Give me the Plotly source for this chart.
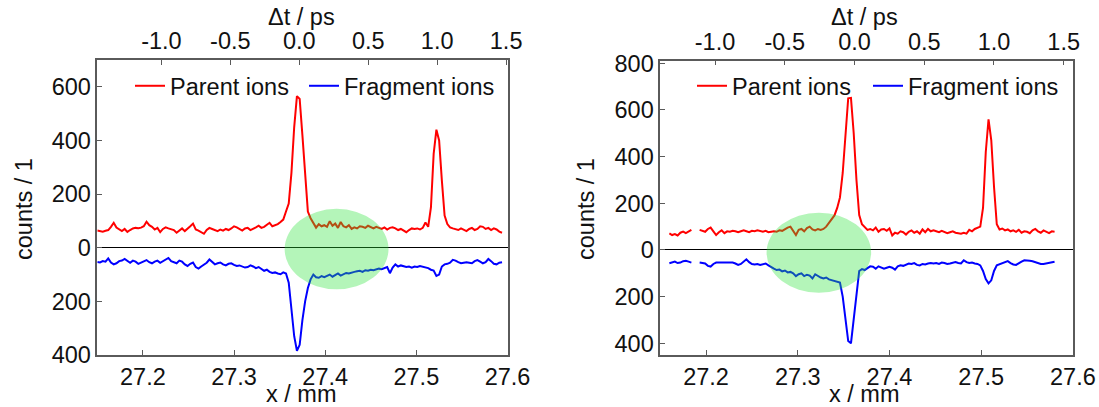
import plotly.graph_objects as go

# ---------------- data ----------------
X_LEFT = [
    27.150, 27.153, 27.156, 27.159, 27.162, 27.165, 27.168, 27.171, 27.174, 27.177,
    27.180, 27.183, 27.186, 27.189, 27.192, 27.195, 27.198, 27.201, 27.204, 27.207,
    27.210, 27.213, 27.216, 27.219, 27.222, 27.225, 27.228, 27.231, 27.234, 27.237,
    27.240, 27.243, 27.246, 27.249, 27.252, 27.255, 27.258, 27.261, 27.264, 27.267,
    27.270, 27.273, 27.276, 27.279, 27.282, 27.285, 27.288, 27.291, 27.294, 27.297,
    27.300, 27.303, 27.306, 27.309, 27.312, 27.315, 27.318, 27.321, 27.324, 27.327,
    27.330, 27.333, 27.336, 27.339, 27.342, 27.345, 27.348, 27.351, 27.354, 27.357,
    27.360, 27.363, 27.366, 27.369, 27.372, 27.375, 27.378, 27.381, 27.384, 27.387,
    27.390, 27.393, 27.396, 27.399, 27.402, 27.405, 27.408, 27.411, 27.414, 27.417,
    27.420, 27.423, 27.426, 27.429, 27.432, 27.435, 27.438, 27.441, 27.444, 27.447,
    27.450, 27.453, 27.456, 27.459, 27.462, 27.465, 27.468, 27.471, 27.474, 27.477,
    27.480, 27.483, 27.486, 27.489, 27.492, 27.495, 27.498, 27.501, 27.504, 27.507,
    27.510, 27.513, 27.516, 27.519, 27.522, 27.525, 27.528, 27.531, 27.534, 27.537,
    27.540, 27.543, 27.546, 27.549, 27.552, 27.555, 27.558, 27.561, 27.564, 27.567,
    27.570, 27.573, 27.576, 27.579, 27.582, 27.585, 27.588, 27.591, 27.594,
]
PARENT_LEFT = [
    64, 62, 60, 63, 66, 78, 93, 75, 68, 62,
    70, 59, 66, 72, 74, 73, 75, 80, 97, 84,
    78, 68, 74, 58, 70, 76, 72, 70, 66, 56,
    64, 72, 62, 70, 80, 90, 68, 64, 58, 52,
    66, 74, 70, 66, 62, 68, 64, 70, 66, 72,
    80, 76, 70, 64, 72, 74, 66, 70, 76, 82,
    74, 78, 84, 93, 80, 84, 88, 96, 105, 135,
    165, 280, 450, 565, 555, 420, 280, 135, 110, 92,
    75, 88, 80, 84, 78, 99, 82, 90, 74, 96,
    80, 76, 84, 70, 76, 72, 80, 78, 74, 82,
    76, 72, 78, 74, 70, 76, 68, 74, 76, 72,
    66, 70, 64, 58, 66, 72, 70, 72, 68, 74,
    94, 78, 150, 350, 440, 400, 250, 120, 88, 76,
    72, 70, 66, 72, 68, 62, 70, 74, 66, 70,
    80, 78, 70, 74, 66, 72, 68, 60, 56,
]
FRAGMENT_LEFT = [
    -53, -55, -50, -52, -40, -55, -62, -58, -50, -48,
    -42, -50, -56, -48, -52, -60, -55, -50, -46, -54,
    -58, -52, -48, -56, -50, -44, -38, -50, -54, -58,
    -48, -52, -62, -68, -60, -55, -72, -78, -70, -64,
    -56, -44, -52, -62, -58, -55, -62, -66, -60, -58,
    -64, -68, -66, -70, -74, -72, -66, -70, -76, -72,
    -80, -86, -82, -90, -94, -92, -96, -99, -92, -96,
    -130, -230, -330, -384, -362, -270, -200, -150, -118, -100,
    -110, -112, -106, -110, -104, -100, -108, -102, -96, -104,
    -98, -94, -96, -92, -90, -88, -86, -90, -84, -86,
    -82, -84, -80, -78, -80, -76, -72, -95, -74, -62,
    -70, -66, -70, -72, -70, -74, -70, -72, -68, -70,
    -72, -76, -82, -85, -105, -100, -70, -62, -60, -56,
    -45, -48, -54, -58, -56, -54, -56, -58, -50, -46,
    -52, -58, -54, -42, -50, -60, -62, -56, -54,
]

X_RIGHT = [
    27.160, 27.163, 27.166, 27.169, 27.172, 27.175, 27.178, 27.181, 27.184,
    27.1885,
    27.193, 27.196, 27.199, 27.202, 27.205, 27.208, 27.211, 27.214, 27.217, 27.220,
    27.223, 27.226, 27.229, 27.232, 27.235, 27.238, 27.241, 27.244, 27.247, 27.250,
    27.253, 27.256, 27.259, 27.262, 27.265, 27.268, 27.271, 27.274, 27.277, 27.280,
    27.283, 27.286, 27.289, 27.292, 27.295, 27.298, 27.301, 27.304, 27.307, 27.310,
    27.313, 27.316, 27.319, 27.322, 27.325, 27.328, 27.331, 27.334, 27.337, 27.340,
    27.343, 27.346, 27.349, 27.352, 27.355, 27.358, 27.361, 27.364, 27.367, 27.370,
    27.373, 27.376, 27.379, 27.382, 27.385, 27.388, 27.391, 27.394, 27.397, 27.400,
    27.403, 27.406, 27.409, 27.412, 27.415, 27.418, 27.421, 27.424, 27.427, 27.430,
    27.433, 27.436, 27.439, 27.442, 27.445, 27.448, 27.451, 27.454, 27.457, 27.460,
    27.463, 27.466, 27.469, 27.472, 27.475, 27.478, 27.481, 27.484, 27.487, 27.490,
    27.493, 27.496, 27.499, 27.502, 27.505, 27.508, 27.511, 27.514, 27.517, 27.520,
    27.523, 27.526, 27.529, 27.532, 27.535, 27.538, 27.541, 27.544, 27.547, 27.550,
    27.553, 27.556, 27.559, 27.562, 27.565, 27.568, 27.571, 27.574, 27.577, 27.580,
]
PARENT_RIGHT = [
    71, 64, 68, 62, 74, 79, 72, 80, 86,
    None,
    86, 82, 78, 90, 96, 80, 64, 76, 84, 72,
    80, 78, 82, 80, 76, 80, 84, 80, 76, 82,
    80, 84, 80, 78, 82, 76, 78, 80, 78, 84,
    82, 90, 96, 100, 80, 64, 86, 90, 80, 94,
    100, 88, 84, 90, 86, 90, 100, 115, 130, 148,
    180, 225, 330, 490, 650, 652, 500, 300, 150, 110,
    96, 86, 90, 84, 96, 78, 88, 90, 82, 92,
    62, 74, 70, 80, 76, 66, 78, 84, 74, 80,
    70, 88, 76, 90, 80, 84, 80, 76, 82, 78,
    72, 76, 80, 74, 72, 70, 74, 70, 86, 80,
    90, 96, 100, 180, 420, 560, 470, 270, 110, 88,
    92, 84, 88, 80, 84, 78, 86, 74, 80, 78,
    72, 84, 90, 80, 74, 84, 78, 72, 80, 78,
]
FRAGMENT_RIGHT = [
    -57, -52, -50, -56, -54, -48, -46, -50, -54,
    None,
    -54, -56, -58, -68, -71, -60, -54, -54, -54, -54,
    -54, -56, -54, -58, -64, -60, -48, -40, -52, -60,
    -62, -60, -64, -60, -58, -66, -74, -80, -86, -84,
    -92, -88, -96, -94, -100, -112, -104, -100, -112, -106,
    -110, -122, -104, -112, -118, -122, -118, -126, -130, -134,
    -136, -140, -200, -290, -390, -400, -300, -190, -90, -82,
    -86, -78, -70, -72, -80, -70, -74, -80, -76, -72,
    -76, -84, -70, -66, -68, -62, -58, -60, -56, -64,
    -66, -60, -62, -58, -56, -58, -56, -60, -54, -56,
    -60, -58, -54, -52, -56, -58, -44, -52, -56, -54,
    -58, -60, -66, -90, -125, -143, -130, -90, -66, -62,
    -58, -52, -48, -56, -62, -64, -56, -50, -44, -44,
    -46, -48, -52, -56, -60, -60, -58, -56, -54, -50,
]

X_TICKS = [27.2, 27.3, 27.4, 27.5, 27.6]
X_TICK_TEXT = ["27.2", "27.3", "27.4", "27.5", "27.6"]
DT_TICKS = [-1.0, -0.5, 0.0, 0.5, 1.0, 1.5]
DT_TICK_TEXT = ["-1.0", "-0.5", "0.0", "0.5", "1.0", "1.5"]
Y_TICKS_LEFT = [-400, -200, 0, 200, 400, 600]
Y_TICK_TEXT_LEFT = ["400", "200", "0", "200", "400", "600"]
Y_TICKS_RIGHT = [-400, -200, 0, 200, 400, 600, 800]
Y_TICK_TEXT_RIGHT = ["400", "200", "0", "200", "400", "600", "800"]

X_RANGE = [27.15, 27.6]
DT_RANGE_LEFT = [-1.465, 1.51]
DT_RANGE_RIGHT = [-1.393, 1.566]
Y_RANGE_LEFT = [-400, 700]
Y_RANGE_RIGHT = [-450, 811]

# highlighted regions (ellipses): x0, x1, y0, y1
ELLIPSE_LEFT = [27.3555, 27.4695, -155, 145]
ELLIPSE_RIGHT = [27.266, 27.380, -183, 160]

X_TITLE = "x / mm"
TOP_TITLE = "Δt / ps"
Y_TITLE = "counts / 1"

# ---------------- styling ----------------
FONT = "Arial, Liberation Sans, sans-serif"
FS = 23.5
TXT = "#111111"
FRAME = "#5a5a5a"
RED = "#ff0000"
BLUE = "#0000ff"

fig = go.Figure()

# left panel
fig.add_trace(go.Scatter(x=X_LEFT, y=PARENT_LEFT, mode="lines", name="Parent ions",
                         line=dict(color=RED, width=2), xaxis="x", yaxis="y", legend="legend"))
fig.add_trace(go.Scatter(x=X_LEFT, y=FRAGMENT_LEFT, mode="lines", name="Fragment ions",
                         line=dict(color=BLUE, width=2), xaxis="x", yaxis="y", legend="legend2"))
fig.add_trace(go.Scatter(x=DT_RANGE_LEFT, y=[None, None], mode="lines", showlegend=False,
                         hoverinfo="skip", xaxis="x2", yaxis="y"))
# right panel
fig.add_trace(go.Scatter(x=X_RIGHT, y=PARENT_RIGHT, mode="lines", name="Parent ions",
                         line=dict(color=RED, width=2), xaxis="x3", yaxis="y3", legend="legend3"))
fig.add_trace(go.Scatter(x=X_RIGHT, y=FRAGMENT_RIGHT, mode="lines", name="Fragment ions",
                         line=dict(color=BLUE, width=2), xaxis="x3", yaxis="y3", legend="legend4"))
fig.add_trace(go.Scatter(x=DT_RANGE_RIGHT, y=[None, None], mode="lines", showlegend=False,
                         hoverinfo="skip", xaxis="x4", yaxis="y3"))

W, H = 1099, 407
dom_xl = [97.3 / W, 507.5 / W]
dom_xr = [660.2 / W, 1072.9 / W]
dom_yl = [1 - 355 / H, 1 - 60 / H]
dom_yr = [1 - 355 / H, 1 - 60.7 / H]

common_axis = dict(showgrid=False, showline=True, linecolor=FRAME, linewidth=1.5,
                   ticks="inside", ticklen=5, tickcolor=FRAME, tickwidth=1.2,
                   tickfont=dict(family=FONT, size=FS, color=TXT), automargin=False)

def bottom_axis(domain, anchor):
    return dict(common_axis, domain=domain, anchor=anchor, range=X_RANGE,
                tickmode="array", tickvals=X_TICKS, ticktext=X_TICK_TEXT, mirror=True)

def top_axis(overlay, anchor, rng):
    return dict(common_axis, overlaying=overlay, anchor=anchor, side="top", range=rng,
                tickmode="array", tickvals=DT_TICKS, ticktext=DT_TICK_TEXT)

def left_axis(domain, anchor, rng, tv, tt):
    return dict(common_axis, domain=domain, anchor=anchor, range=rng, mirror=True,
                tickmode="array", tickvals=tv, ticktext=tt,
                zeroline=True, zerolinecolor="#000000", zerolinewidth=1)

legend_common = dict(orientation="h", bgcolor="rgba(0,0,0,0)", borderwidth=0,
                     font=dict(family=FONT, size=FS, color=TXT),
                     xanchor="left", yanchor="middle", itemwidth=30, y=1 - 86 / H)

shapes = []
for (x0, x1, y0, y1), xr, yr in [(ELLIPSE_LEFT, "x", "y"), (ELLIPSE_RIGHT, "x3", "y3")]:
    shapes.append(dict(type="circle", xref=xr, yref=yr, x0=x0, x1=x1, y0=y0, y1=y1,
                       fillcolor="rgba(40,225,55,0.35)", line=dict(width=0), layer="above"))

# axis titles as annotations (positions in paper pixels of the reference)
title_font = dict(family=FONT, size=FS, color=TXT)
annotations = []
for cx, cy_top, cy_bot, ycx in [(301, 17, 394, 24), (864, 17, 394, 586)]:
    annotations.append(dict(text=TOP_TITLE, xref="paper", yref="paper", x=cx / W, y=1 - cy_top / H,
                            xanchor="center", yanchor="middle", showarrow=False, font=title_font))
    annotations.append(dict(text=X_TITLE, xref="paper", yref="paper", x=cx / W, y=1 - cy_bot / H,
                            xanchor="center", yanchor="middle", showarrow=False, font=title_font))
    annotations.append(dict(text=Y_TITLE, xref="paper", yref="paper", x=ycx / W, y=1 - 209 / H,
                            xanchor="center", yanchor="middle", textangle=-90, showarrow=False,
                            font=title_font))

fig.update_layout(
    width=W, height=H,
    margin=dict(l=0, r=0, t=0, b=0),
    paper_bgcolor="white", plot_bgcolor="white",
    font=dict(family=FONT, size=FS, color=TXT),
    xaxis=bottom_axis(dom_xl, "y"),
    xaxis2=top_axis("x", "y", DT_RANGE_LEFT),
    yaxis=left_axis(dom_yl, "x", Y_RANGE_LEFT, Y_TICKS_LEFT, Y_TICK_TEXT_LEFT),
    xaxis3=bottom_axis(dom_xr, "y3"),
    xaxis4=top_axis("x3", "y3", DT_RANGE_RIGHT),
    yaxis3=left_axis(dom_yr, "x3", Y_RANGE_RIGHT, Y_TICKS_RIGHT, Y_TICK_TEXT_RIGHT),
    legend=dict(legend_common, x=130 / W),
    legend2=dict(legend_common, x=304 / W),
    legend3=dict(legend_common, x=692 / W),
    legend4=dict(legend_common, x=868 / W),
    shapes=shapes,
    annotations=annotations,
    showlegend=True,
)

fig.write_html("out.html")
